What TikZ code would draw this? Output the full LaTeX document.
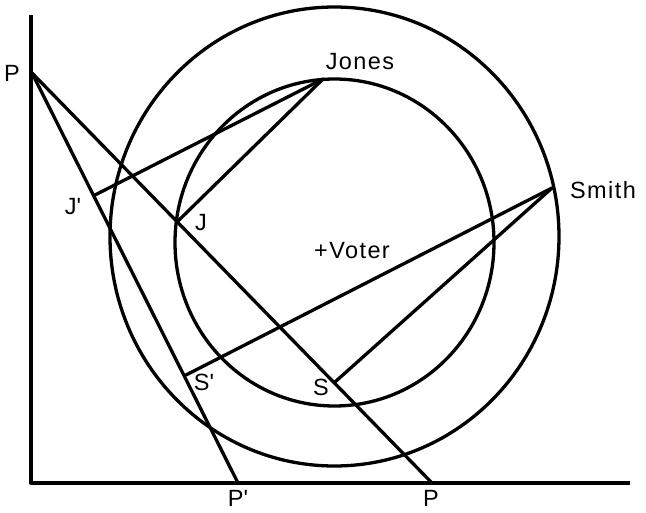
\documentclass[tikz,border=0pt]{standalone}
\usepackage{fontspec}
\setmainfont{Liberation Sans}[LetterSpace=6]
\tikzset{
  ln/.style={line width=3.3pt, line cap=round, line join=round},
  lbl/.style={inner sep=0pt, font=\fontsize{23.5}{26}\selectfont}
}
\begin{document}
\begin{tikzpicture}[x=1pt,y=-1pt]
\useasboundingbox (0,0) rectangle (646,512);
% coordinates
\coordinate (O) at (31,483);
\coordinate (Ytop) at (31,15);
\coordinate (Xend) at (630,483);
\coordinate (P) at (32,73);
\coordinate (Pp) at (238,483);
\coordinate (Pb) at (432,483);
\coordinate (Jones) at (323,79);
\coordinate (Smith) at (552,188);
\coordinate (J) at (177,222);
\coordinate (Jp) at (95,195);
\coordinate (S) at (335,382);
\coordinate (Sp) at (186,375);
\coordinate (C1) at (334.5,236.5);
\coordinate (C2) at (334.5,242.5);
% axes
\draw[ln, line cap=butt] (Ytop) -- (O) -- (Xend);
% circles
\draw[ln] (C1) ellipse [x radius=224.5, y radius=229.5];
\draw[ln] (C2) ellipse [x radius=159.5, y radius=163.5];
% lines
\draw[ln] (P) -- (Pb);
\draw[ln] (P) -- (Pp);
\draw[ln] (Jones) -- (Jp);
\draw[ln] (Jones) -- (J);
\draw[ln] (Smith) -- (Sp);
\draw[ln] (Smith) -- (S);
% labels
\node[lbl] (lP) at (12,73) {P};
\node[lbl] (lPp) at (238,498) {P\textquotesingle};
\node[lbl] (lPb) at (431,498) {P};
\node[lbl] (lJones) at (360,62) {Jones};
\node[lbl] (lSmith) at (603,190) {Smith};
\node[lbl] (lJ) at (201,223) {J};
\node[lbl] (lJp) at (73,207) {J\textquotesingle};
\node[lbl] (lS) at (321,387) {S};
\node[lbl] (lSp) at (204,382) {S\textquotesingle};
\node[lbl] (lVoter) at (352,251) {+Voter};
\end{tikzpicture}
\end{document}
